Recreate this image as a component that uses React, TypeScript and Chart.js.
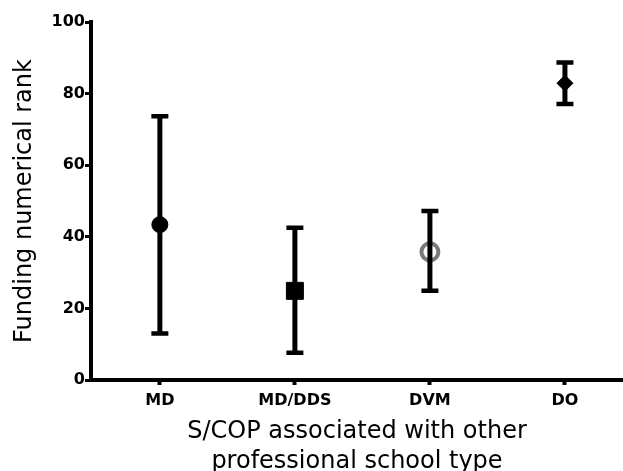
import React, { useEffect, useRef } from 'react';
import { Chart, registerables } from 'chart.js';

Chart.register(...registerables);

const categories = ['MD', 'MD/DDS', 'DVM', 'DO'];
const means = [43.4, 24.9, 35.8, 82.9];
const lows = [13.0, 7.6, 24.9, 77.1];
const highs = [73.7, 42.5, 47.2, 88.7];
const yTicks = [0, 20, 40, 60, 80, 100];
const xTitle = ['S/COP associated with other', 'professional school type'];
const yTitle = 'Funding numerical rank';

const markerStyles = ['circle', 'rect', 'circle', 'rectRot'];
const markerRadius = [8, 12, 8.5, 8];
const markerFill = ['#000000', '#000000', 'rgba(0,0,0,0)', '#000000'];
const markerBorder = ['#000000', '#000000', '#7a7a7a', '#000000'];
const markerBorderWidth = [1, 1, 4, 1];

const FONT = '"DejaVu Sans", "Liberation Sans", Arial, sans-serif';

const errorBarPlugin = {
  id: 'errorBars',
  afterDatasetsDraw(chart: any) {
    const { ctx, scales } = chart;
    const xs = scales.x;
    const ys = scales.y;
    ctx.save();
    ctx.strokeStyle = '#000000';
    ctx.lineCap = 'butt';
    categories.forEach((_, i) => {
      const x = xs.getPixelForValue(i);
      const yl = ys.getPixelForValue(lows[i]);
      const yh = ys.getPixelForValue(highs[i]);
      ctx.lineWidth = 5;
      ctx.beginPath();
      ctx.moveTo(x, yl);
      ctx.lineTo(x, yh);
      ctx.stroke();
      ctx.lineWidth = 4.5;
      ctx.beginPath();
      ctx.moveTo(x - 8.5, yl);
      ctx.lineTo(x + 8.5, yl);
      ctx.moveTo(x - 8.5, yh);
      ctx.lineTo(x + 8.5, yh);
      ctx.stroke();
    });
    ctx.restore();
  },
};

export default function App() {
  const ref = useRef<HTMLCanvasElement | null>(null);
  useEffect(() => {
    if (!ref.current) return;
    const datasets = categories.map((c, i) => ({
      label: c,
      data: [{ x: i, y: means[i] }],
      pointStyle: markerStyles[i] as any,
      pointRadius: markerRadius[i],
      pointBackgroundColor: markerFill[i],
      pointBorderColor: markerBorder[i],
      pointBorderWidth: markerBorderWidth[i],
      showLine: false,
      clip: false as any,
    }));
    const chart = new Chart(ref.current, {
      type: 'scatter',
      data: { datasets },
      plugins: [errorBarPlugin],
      options: {
        animation: false,
        responsive: false,
        maintainAspectRatio: false,
        layout: { autoPadding: false, padding: { top: 22, right: 0, left: 0, bottom: 0 } },
        plugins: {
          legend: { display: false },
          tooltip: { enabled: false },
        },
        scales: {
          x: {
            type: 'linear',
            min: -0.51,
            max: 3.43,
            afterBuildTicks: (scale: any) => {
              scale.ticks = categories.map((_, i) => ({ value: i }));
            },
            afterFit: (scale: any) => {
              scale.height = 91;
              scale.paddingRight = 0;
              scale.paddingLeft = 0;
            },
            ticks: {
              callback: (v: any) => categories[v] ?? '',
              color: '#000000',
              font: { family: FONT, size: 16, weight: 'bold' },
              padding: 6,
              maxRotation: 0,
            },
            grid: {
              display: true,
              drawOnChartArea: false,
              drawTicks: true,
              tickLength: 5,
              tickWidth: 4,
              tickColor: '#000000',
            },
            border: { display: true, color: '#000000', width: 4 },
            title: {
              display: true,
              text: xTitle,
              color: '#000000',
              font: { family: FONT, size: 24, lineHeight: 1.27 },
              padding: { top: 4, bottom: -6 },
            },
          },
          y: {
            type: 'linear',
            min: 0,
            max: 100,
            afterBuildTicks: (scale: any) => {
              scale.ticks = yTicks.map((v) => ({ value: v }));
            },
            afterFit: (scale: any) => {
              scale.width = 91;
              scale.paddingTop = 0;
              scale.paddingBottom = 0;
            },
            ticks: {
              color: '#000000',
              font: { family: FONT, size: 16, weight: 'bold' },
              padding: 0,
            },
            grid: {
              display: true,
              drawOnChartArea: false,
              drawTicks: true,
              tickLength: 6,
              tickWidth: 3,
              tickColor: '#000000',
            },
            border: { display: true, color: '#000000', width: 4 },
            title: {
              display: true,
              text: yTitle,
              color: '#000000',
              font: { family: FONT, size: 24 },
              padding: { top: 10, bottom: 0 },
            },
          },
        },
      },
    });
    return () => chart.destroy();
  }, []);
  return (
    <div style={{ position: 'fixed', left: 0, top: 0, width: 623, height: 471, background: '#ffffff' }}>
      <canvas ref={ref} width={623} height={471} style={{ width: 623, height: 471 }} />
    </div>
  );
}
